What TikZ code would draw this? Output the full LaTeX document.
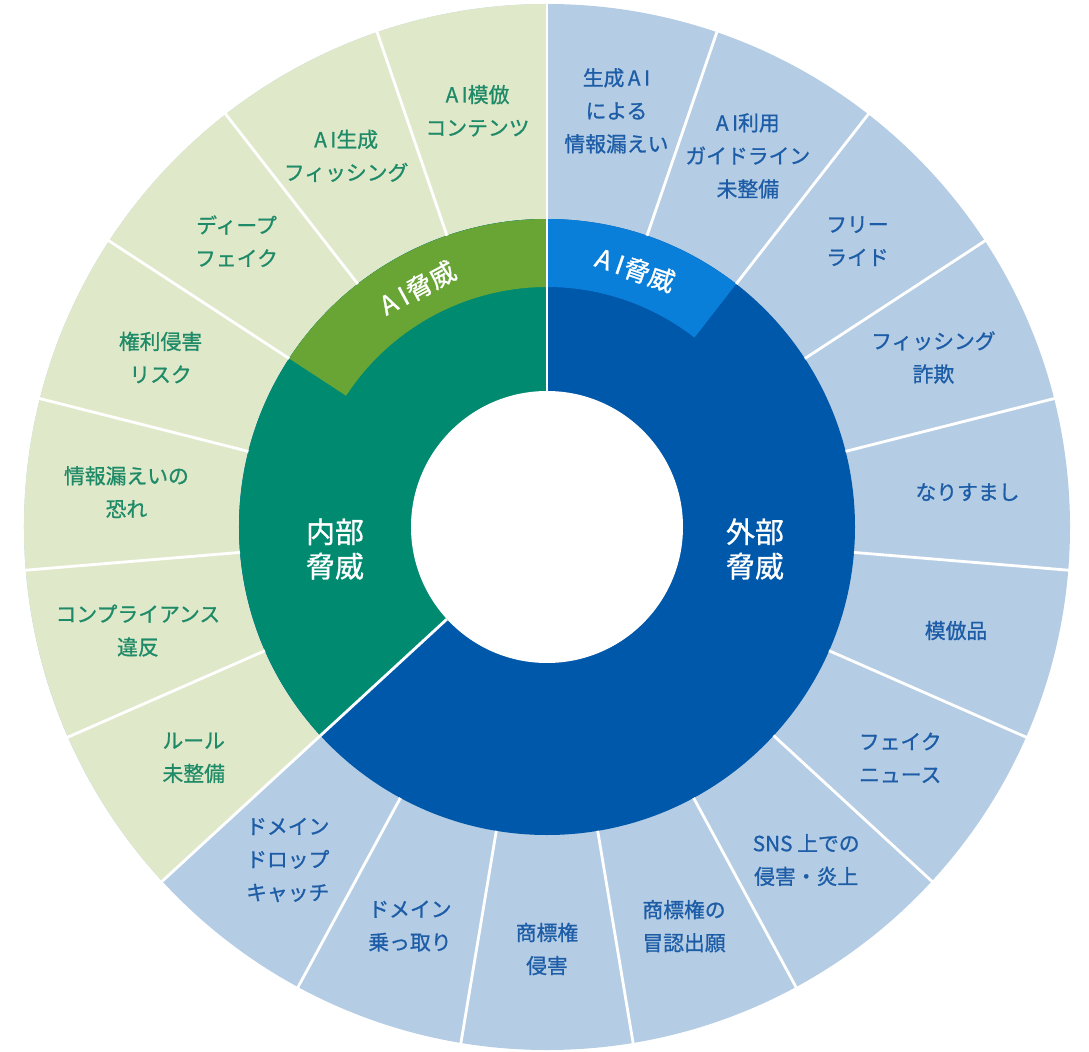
\documentclass[tikz,border=0pt]{standalone}
\usepackage{fontspec}
\setmainfont{Noto Sans CJK JP}[FakeBold=0.9]

\definecolor{outerblue}{HTML}{B4CDE4}
\definecolor{outergreen}{HTML}{DFE9C9}
\definecolor{darkblue}{HTML}{0058AA}
\definecolor{aiblue}{HTML}{0A7FD9}
\definecolor{midgreen}{HTML}{008B71}
\definecolor{aigreen}{HTML}{69A534}
\definecolor{textblue}{HTML}{1D5CA6}
\definecolor{textgreen}{HTML}{1F8A68}

\tikzset{
  sepline/.style={white, line width=2pt},
  outerlabel/.style={align=center, text=textblue,
    font=\fontsize{14.8}{23.5}\selectfont},
  innerlabel/.style={outerlabel, text=textgreen},
  midlabel/.style={align=center, text=white,
    font=\fontsize{20.6}{24.5}\selectfont},
  bandlabel/.style={text=white, inner sep=1pt, font=\fontsize{18.5}{20}\selectfont}
}

\begin{document}
\begin{tikzpicture}[scale=0.025]
  \useasboundingbox (-547,-524) rectangle (542,527);
  % outer ring
  \fill[outerblue] (0,0) circle[radius=523];
  \fill[outergreen] (0,0) -- (90:523)
    arc[start angle=90, end angle=222.632, radius=523] -- cycle;
  % middle ring
  \fill[darkblue] (0,0) circle[radius=308];
  \fill[midgreen] (0,0) -- (90:308)
    arc[start angle=90, end angle=222.632, radius=308] -- cycle;
  % AI bands
  \fill[aiblue] (52.105:240) -- (52.105:308)
    arc[start angle=52.105, end angle=90, radius=308] -- (90:240)
    arc[start angle=90, end angle=52.105, radius=240] -- cycle;
  \fill[aigreen] (90:240) -- (90:308)
    arc[start angle=90, end angle=146.842, radius=308] -- (146.842:240)
    arc[start angle=146.842, end angle=90, radius=240] -- cycle;
  % centre
  \fill[white] (0,0) circle[radius=136];
  % separators
  \foreach \k [evaluate=\k as \ang using 90-\k*360/19] in {0,...,18}
    \draw[sepline] (\ang:308) -- (\ang:525);
  \draw[sepline] (90:136) -- (90:308);
  \draw[sepline] (222.632:136) -- (222.632:308);

  \node[midlabel] (External) at (208,-22) {外部\\脅威};
  \node[midlabel] (Internal) at (-212,-22) {内部\\脅威};
  \node[bandlabel, rotate=-18.95] (AIExt) at (71.05:272) {A\hspace{0.2em}I\hspace{0.05em}脅威};
  \node[bandlabel, rotate=28.42] (AIInt) at (118.42:272) {A\hspace{0.2em}I\hspace{0.05em}脅威};

  \node[outerlabel] (GenLeak) at (80.526:422) {生成\,A\,I\\による\\情報漏えい};
  \node[outerlabel] (AIGuide) at (61.579:422) {A\,I利用\\ガイドライン\\未整備};
  \node[outerlabel] (FreeRide) at (42.632:422) {フリー\\ライド};
  \node[outerlabel] (Phishing) at (23.684:422) {フィッシング\\詐欺};
  \node[outerlabel] (Spoofing) at (4.737:422) {なりすまし};
  \node[outerlabel] (Imitation) at (-14.211:422) {模倣品};
  \node[outerlabel] (FakeNews) at (-33.158:422) {フェイク\\ニュース};
  \node[outerlabel] (SNSHarm) at (-52.105:422) {SNS 上での\\侵害・炎上};
  \node[outerlabel] (TMApply) at (-71.053:422) {商標権の\\冒認出願};
  \node[outerlabel] (TMInfringe) at (-90:422) {商標権\\侵害};
  \node[outerlabel] (DomainHijack) at (-108.947:422) {ドメイン\\乗っ取り};
  \node[outerlabel] (DropCatch) at (-127.895:422) {ドメイン\\ドロップ\\キャッチ};
  \node[innerlabel] (NoRules) at (-146.842:422) {ルール\\未整備};
  \node[innerlabel] (Compliance) at (-165.789:422) {コンプライアンス\\違反};
  \node[innerlabel] (LeakRisk) at (175.263:422) {情報漏えいの\\恐れ};
  \node[innerlabel] (RightsRisk) at (156.316:422) {権利侵害\\リスク};
  \node[innerlabel] (DeepFake) at (137.368:422) {ディープ\\フェイク};
  \node[innerlabel] (AIPhishing) at (118.421:422) {A\,I生成\\フィッシング};
  \node[innerlabel] (AICopy) at (99.474:422) {A\,I模倣\\コンテンツ};
\end{tikzpicture}
\end{document}
